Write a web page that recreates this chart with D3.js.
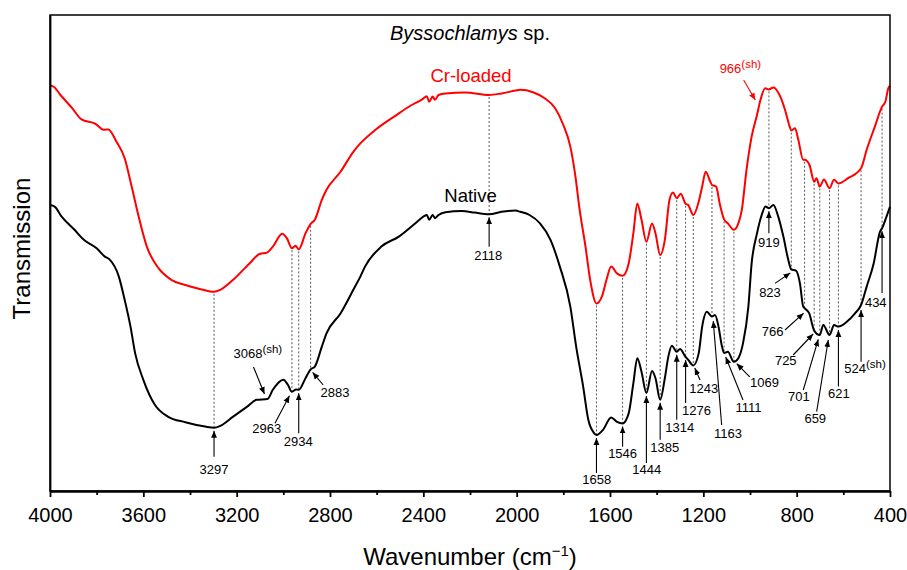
<!DOCTYPE html>
<html>
<head>
<meta charset="utf-8">
<script src="https://cdn.jsdelivr.net/npm/d3@7"></script>
<style>
  body { margin: 0; background: #fff; }
  svg { display: block; font-family: Arial, "Liberation Sans", sans-serif; }
</style>
</head>
<body>
<svg id="chart"></svg>
<script>
// ---- data (wavenumber in cm-1, transmission in arbitrary units) ----
const nativeWavenumber = [4000,3980,3950,3895,3855,3800,3765,3745,3705,3680,
  3655,3635,3600,3550,3495,3420,3335,3297,3270,3215,
  3155,3115,3068,3045,3000,2980,2963,2945,2934,2905,
  2883,2865,2835,2815,2755,2700,2670,2650,2580,2505,
  2435,2400,2385,2375,2360,2350,2335,2305,2235,2180,
  2118,2065,2005,1985,1945,1900,1855,1815,1770,1745,
  1715,1693,1670,1658,1630,1595,1570,1546,1520,1500,
  1483,1465,1444,1420,1405,1385,1365,1350,1335,1314,
  1300,1276,1265,1243,1220,1205,1185,1163,1150,1135,
  1120,1111,1095,1069,1050,1030,1007,993,970,950,
  933,919,900,879,857,836,823,803,786,772,
  766,746,731,725,701,686,659,640,621,585,
  550,524,500,470,443,434,415,400];
const nativeTransmission = [71.5,71.1,68.6,65.3,62.8,60.7,58.6,57.9,53.6,47.8,
  41.1,34.4,27.8,21.5,18.6,17.2,16.1,15.8,16.3,18.6,
  21.1,22.8,23.0,25.3,27.8,26.5,24.8,25.4,25.3,28.2,
  30.4,31.1,36.1,39.4,44.4,50.3,53.6,56.1,61.1,63.6,
  66.9,68.6,69.0,67.8,69.0,68.2,69.0,69.7,70.0,69.6,
  69.2,69.8,70.1,69.8,69.0,66.9,62.8,56.1,46.1,36.1,
  26.1,17.8,14.6,14.0,15.3,18.4,17.3,16.9,19.4,26.9,
  33.2,29.8,24.5,30.0,28.2,22.8,28.2,33.6,36.3,34.8,
  35.5,33.5,32.8,31.4,34.4,41.1,44.8,43.6,44.0,41.1,
  36.1,34.5,34.8,32.3,33.2,36.9,46.1,56.9,64.4,69.0,
  71.1,70.7,71.5,68.6,63.6,57.8,55.4,55.1,51.9,46.1,
  45.7,44.4,41.1,40.1,39.0,41.5,39.0,41.5,41.1,42.3,
  44.4,46.5,51.1,56.9,64.8,65.7,68.6,71.1];

const crWavenumber = [4000,3985,3955,3905,3865,3805,3770,3750,3715,3680,
  3650,3620,3585,3535,3480,3420,3350,3297,3270,3215,
  3145,3100,3070,3045,3005,2985,2963,2948,2934,2905,
  2883,2865,2835,2815,2755,2700,2670,2605,2520,2450,
  2405,2385,2375,2360,2350,2335,2305,2220,2118,2065,
  2005,1985,1930,1880,1835,1800,1770,1750,1730,1705,
  1685,1658,1635,1615,1595,1570,1546,1520,1500,1483,
  1465,1444,1420,1405,1385,1365,1345,1330,1314,1297,
  1276,1265,1243,1220,1205,1190,1170,1163,1145,1130,
  1111,1095,1069,1050,1035,1015,993,970,955,935,
  919,900,870,850,830,823,807,793,772,766,
  745,725,715,701,683,659,640,621,580,524,
  500,465,434,420,407,400];
const crTransmission = [101.3,101.1,99.0,95.7,92.9,91.8,90.3,90.4,87.3,83.2,
  76.1,68.6,61.1,55.7,52.8,51.5,50.4,49.8,50.3,52.8,
  56.9,59.3,59.6,61.1,64.3,63.2,60.7,61.3,60.4,64.4,
  66.8,67.8,72.8,75.3,79.8,84.8,86.9,90.3,93.8,96.5,
  97.9,98.7,97.3,98.6,97.8,99.0,99.4,99.6,99.0,99.4,
  100.1,100.3,99.7,98.2,95.7,91.5,86.1,79.4,70.3,61.1,
  52.8,46.9,48.6,52.8,56.1,54.4,53.8,56.9,64.4,71.9,
  67.8,62.3,66.9,64.4,59.0,62.8,72.8,74.6,73.2,74.3,
  71.8,71.5,69.0,72.3,76.1,79.8,77.3,76.5,76.1,71.9,
  67.9,66.9,65.3,66.9,70.3,80.3,88.6,94.0,97.8,100.7,
  100.4,100.9,98.6,95.3,91.1,90.1,90.7,87.8,82.8,82.8,
  81.5,77.3,78.2,76.1,77.9,75.7,77.8,76.9,78.2,80.7,
  85.3,91.1,96.1,97.3,100.7,101.3];

const xTicks = [4000, 3600, 3200, 2800, 2400, 2000, 1600, 1200, 800, 400];
const xMinorTicks = [3800, 3400, 3000, 2600, 2200, 1800, 1400, 1000, 600];

// band assignments marked on the native spectrum
const nativePeaks = [3297, 3068, 2963, 2934, 2883, 2118, 1658, 1546, 1444, 1385, 1314, 1276,
  1243, 1163, 1111, 1069, 919, 823, 766, 725, 701, 659, 621, 524, 434];
const crPeaks = [966];
const shoulderPeaks = [3068, 524, 966];
// bands joined between the two spectra by a dotted guide
const linkedPeaks = [3297, 2963, 2934, 2883, 2118, 1658, 1546, 1444, 1385, 1314, 1276, 1243,
  1163, 1111, 1069, 919, 823, 766, 725, 701, 659, 621, 524, 434];

// label placement, px offsets from the band point: tip, arrow tail, text baseline
const labelLayout = {
  3297: { tip: [0, 3], tail: [0, 29], text: [0, 46.5] },
  3068: { tip: [-3, -5], tail: [-14, -32], text: [-34, -41.3], anchor: 'start' },
  2963: { tip: [-2.5, 4], tail: [-17, 31.5], text: [-25.3, 41] },
  2934: { tip: [0, 3.5], tail: [0, 43.5], text: [-0.5, 56] },
  2883: { tip: [2, 3], tail: [12.6, 15.6], text: [24.3, 28] },
  2118: { tip: [0, 3], tail: [0, 32.5], text: [-0.8, 45.8] },
  1658: { tip: [0, 3], tail: [0, 38], text: [0.2, 49] },
  1546: { tip: [0, 3], tail: [0, 23.3], text: [0, 35] },
  1444: { tip: [0, 3], tail: [0, 70], text: [0.3, 81.3] },
  1385: { tip: [0, 3], tail: [0, 40], text: [4.5, 52] },
  1314: { tip: [0, 3], tail: [0, 68], text: [3, 80] },
  1276: { tip: [0, 3], tail: [0, 46], text: [10.8, 58] },
  1243: { tip: [1.5, 2.5], tail: [6.7, 14.6], text: [10.4, 28] },
  1163: { tip: [1.3, 4.5], tail: [9.7, 108.4], text: [16, 121.7] },
  1111: { tip: [1.6, 4], tail: [18.9, 47], text: [24.3, 58.7] },
  1069: { tip: [2.8, 1.8], tail: [15.8, 15], text: [30.5, 25] },
  919:  { tip: [0, 3], tail: [0, 25], text: [0, 38.5] },
  823:  { tip: [-1, 3.5], tail: [-16.3, 14], text: [-21.3, 27.3] },
  766:  { tip: [-1, 5], tail: [-19.6, 21.8], text: [-32, 27.5] },
  725:  { tip: [-1, 3.4], tail: [-21, 24.4], text: [-28.4, 34.4] },
  701:  { tip: [-1.5, 4.3], tail: [-16.5, 55], text: [-20.8, 65.7] },
  659:  { tip: [-1.3, 5], tail: [-12.9, 76.7], text: [-14.3, 87.7] },
  621:  { tip: [0, 3.4], tail: [0, 60], text: [0.4, 71.7] },
  524:  { tip: [0, 5], tail: [0, 56.7], text: [-16.8, 67.7], anchor: 'start' },
  434:  { tip: [0, 3], tail: [0, 64.8], text: [-6.3, 79] },
  966:  { tip: [-2.6, -11], tail: [-14.3, -31], text: [-38.3, -37.7], anchor: 'start' }
};

// ---- chart ----
const W = 907, H = 570;
const margin = { top: 15, right: 17, bottom: 79, left: 50 };
const width = W - margin.left - margin.right;
const height = H - margin.top - margin.bottom;
const RED = '#ff0000';

const native = nativeWavenumber.map((w, i) => ({ w: w, t: nativeTransmission[i] }));
const crLoaded = crWavenumber.map((w, i) => ({ w: w, t: crTransmission[i] }));

const x = d3.scaleLinear().domain([4000, 400]).range([0, width]);
const y = d3.scaleLinear().domain([0, 119]).range([height, 0]);

// linear read-out of a spectrum at a given wavenumber
function valueAt(series, w) {
  for (let i = 1; i < series.length; i++) {
    const a = series[i - 1], b = series[i];
    if (w <= a.w && w >= b.w) {
      const f = (a.w - w) / (a.w - b.w);
      return a.t + f * (b.t - a.t);
    }
  }
  return series[series.length - 1].t;
}

const svg = d3.select('#chart').attr('width', W).attr('height', H);

const defs = svg.append('defs');
[['arrow-black', '#000'], ['arrow-red', RED]].forEach(([id, col]) => {
  defs.append('marker')
      .attr('id', id)
      .attr('viewBox', '0 0 10 10')
      .attr('refX', 10).attr('refY', 5)
      .attr('markerWidth', 7).attr('markerHeight', 7)
      .attr('markerUnits', 'userSpaceOnUse')
      .attr('orient', 'auto')
    .append('path')
      .attr('d', 'M0,0.8 L10,5 L0,9.2 Z')
      .attr('fill', col);
});

const chart = svg.append('g')
    .attr('transform', `translate(${margin.left},${margin.top})`);

// dotted guides between the two spectra
chart.selectAll('.guide')
    .data(linkedPeaks)
  .join('line')
    .attr('class', 'guide')
    .attr('x1', d => x(d)).attr('x2', d => x(d))
    .attr('y1', d => y(valueAt(crLoaded, d)) + 2)
    .attr('y2', d => y(valueAt(native, d)))
    .attr('stroke', '#444')
    .attr('stroke-width', 0.9)
    .attr('stroke-dasharray', '2,2');

// spectra
const line = d3.line()
    .x(d => x(d.w))
    .y(d => y(d.t))
    .curve(d3.curveMonotoneX);

chart.append('path')
    .datum(crLoaded)
    .attr('fill', 'none')
    .attr('stroke', RED)
    .attr('stroke-width', 2)
    .attr('stroke-linejoin', 'round')
    .attr('d', line);

chart.append('path')
    .datum(native)
    .attr('fill', 'none')
    .attr('stroke', '#000')
    .attr('stroke-width', 2)
    .attr('stroke-linejoin', 'round')
    .attr('d', line);

// band labels with arrows
const bands = nativePeaks.map(w => ({ w: w, series: native, color: '#000', marker: 'arrow-black' }))
  .concat(crPeaks.map(w => ({ w: w, series: crLoaded, color: RED, marker: 'arrow-red' })));

bands.forEach(b => {
  const px = x(b.w), py = y(valueAt(b.series, b.w));
  const L = labelLayout[b.w];
  chart.append('line')
      .attr('x1', px + L.tail[0]).attr('y1', py + L.tail[1])
      .attr('x2', px + L.tip[0]).attr('y2', py + L.tip[1])
      .attr('stroke', b.color)
      .attr('stroke-width', 1.1)
      .attr('marker-end', `url(#${b.marker})`);
  const t = chart.append('text')
      .attr('x', px + L.text[0]).attr('y', py + L.text[1])
      .attr('text-anchor', L.anchor || 'middle')
      .attr('font-size', 13)
      .attr('fill', b.color)
      .text(b.w);
  if (shoulderPeaks.includes(b.w)) {
    t.append('tspan').attr('dy', -5).attr('font-size', 11.5).text('(sh)');
  }
});

// frame and axes
chart.append('rect')
    .attr('width', width).attr('height', height)
    .attr('fill', 'none')
    .attr('stroke', '#000')
    .attr('stroke-width', 1.5);

const xAxis = d3.axisBottom(x)
    .tickValues(xTicks)
    .tickFormat(d3.format('d'))
    .tickSize(6)
    .tickSizeOuter(0)
    .tickPadding(11);

const xAxisG = chart.append('g')
    .attr('class', 'axis x-axis')
    .attr('transform', `translate(0,${height})`)
    .call(xAxis);

chart.append('g')
    .attr('class', 'axis x-minor')
    .attr('transform', `translate(0,${height})`)
    .call(d3.axisBottom(x).tickValues(xMinorTicks).tickSize(4).tickSizeOuter(0).tickFormat(''));

chart.append('g')
    .attr('class', 'axis y-axis')
    .call(d3.axisLeft(y).tickValues([]).tickSizeOuter(0));

chart.selectAll('.axis path, .axis line').attr('stroke', '#000').attr('stroke-width', 1.8);
xAxisG.selectAll('text')
    .attr('font-size', 20)
    .attr('font-family', 'Arial, "Liberation Sans", sans-serif')
    .attr('fill', '#000');

// titles
svg.append('text')
    .attr('x', 470).attr('y', 40)
    .attr('text-anchor', 'middle')
    .attr('font-size', 20)
    .call(t => {
      t.append('tspan').attr('font-style', 'italic').text('Byssochlamys');
      t.append('tspan').text(' sp.');
    });

svg.append('text')
    .attr('x', 471).attr('y', 82.3)
    .attr('text-anchor', 'middle')
    .attr('font-size', 18.5)
    .attr('fill', RED)
    .text('Cr-loaded');

svg.append('text')
    .attr('x', 470.5).attr('y', 201.7)
    .attr('text-anchor', 'middle')
    .attr('font-size', 18.5)
    .text('Native');

svg.append('text')
    .attr('x', margin.left + width / 2).attr('y', 565)
    .attr('text-anchor', 'middle')
    .attr('font-size', 24)
    .call(t => {
      t.append('tspan').text('Wavenumber (cm');
      t.append('tspan').attr('dy', -9).attr('font-size', 15).text('\u22121');
      t.append('tspan').attr('dy', 9).text(')');
    });

svg.append('text')
    .attr('transform', `translate(30,${margin.top + 233.5}) rotate(-90)`)
    .attr('text-anchor', 'middle')
    .attr('font-size', 24)
    .text('Transmission');
</script>
</body>
</html>
